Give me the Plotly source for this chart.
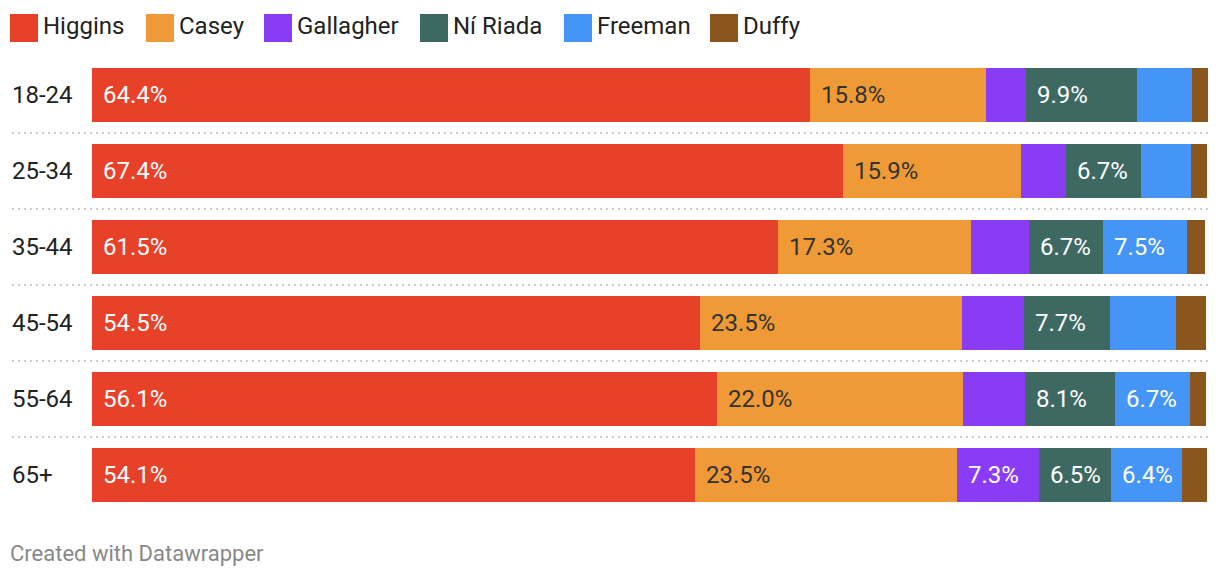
import plotly.graph_objects as go

age_groups = ["18-24", "25-34", "35-44", "45-54", "55-64", "65+"]
candidates = ["Higgins", "Casey", "Gallagher", "Ní Riada", "Freeman", "Duffy"]

higgins = [64.4, 67.4, 61.5, 54.5, 56.1, 54.1]
casey = [15.8, 15.9, 17.3, 23.5, 22.0, 23.5]
gallagher = [3.6, 4.1, 5.2, 5.6, 5.6, 7.3]
ni_riada = [9.9, 6.7, 6.7, 7.7, 8.1, 6.5]
freeman = [5.0, 4.5, 7.5, 5.9, 6.7, 6.4]
duffy = [1.4, 1.4, 1.6, 2.7, 1.4, 2.2]

series = [higgins, casey, gallagher, ni_riada, freeman, duffy]
colors = ["#e8412a", "#f09a37", "#8a3cf5", "#3e6962", "#4495f5", "#8b551e"]
label_colors = ["#ffffff", "#333333", "#ffffff", "#ffffff", "#ffffff", "#ffffff"]
label_min = 6.0

FONT = "Roboto"
OFF = 8  # page body margin
W, H = 1212, 572
ML, MR, MT, MB = 84, 12, 49, 67
plot_w = W - ML - MR
plot_h = H - MT - MB

fig = go.Figure()
for name, vals, col in zip(candidates, series, colors):
    fig.add_trace(go.Bar(
        y=age_groups, x=vals, name=name, orientation="h",
        marker=dict(color=col, line=dict(width=0)),
        width=54 / 76, showlegend=False, hoverinfo="x+name",
    ))

annotations = []
shapes = []


def px_x(p):
    return (p - OFF - ML) / plot_w


def px_y(p):
    return 1 - (p - OFF - MT) / plot_h


# segment value labels
for i, grp in enumerate(age_groups):
    base = 0.0
    for vals, lc in zip(series, label_colors):
        v = vals[i]
        if v >= label_min:
            annotations.append(dict(
                x=base, y=grp, xref="x", yref="y", text=f"{v:.1f}%",
                showarrow=False, xanchor="left", yanchor="middle", xshift=9,
                font=dict(family=FONT, size=24, color=lc),
            ))
        base += v

# category labels (left aligned)
x_left = px_x(10)
for grp in age_groups:
    annotations.append(dict(
        x=x_left, y=grp, xref="paper", yref="y", text=grp, showarrow=False,
        xanchor="left", yanchor="middle",
        font=dict(family=FONT, size=24, color="#222222"),
    ))

# dotted separators
for k in range(len(age_groups) - 1):
    shapes.append(dict(
        type="line", xref="paper", yref="y", x0=px_x(12), x1=1,
        y0=k + 0.5, y1=k + 0.5,
        line=dict(color="#cccccc", width=2, dash="2px,4px"),
    ))

# legend (manual)
legend_x = [10, 146, 264, 420, 564, 710]
sw = 28
sw_top = 14
for name, col, lx in zip(candidates, colors, legend_x):
    shapes.append(dict(
        type="rect", xref="paper", yref="paper",
        x0=px_x(lx), x1=px_x(lx + sw), y0=px_y(sw_top), y1=px_y(sw_top + sw),
        fillcolor=col, line=dict(width=0),
    ))
    annotations.append(dict(
        x=px_x(lx + sw + 3), y=px_y(sw_top + sw / 2 - 2), xref="paper", yref="paper",
        text=name, showarrow=False, xanchor="left", yanchor="middle",
        font=dict(family=FONT, size=24, color="#222222"),
    ))

# footer
annotations.append(dict(
    x=px_x(8), y=px_y(553), xref="paper", yref="paper",
    text="Created with Datawrapper", showarrow=False,
    xanchor="left", yanchor="middle",
    font=dict(family=FONT, size=22, color="#888888"),
))

totals = [sum(s[i] for s in series) for i in range(len(age_groups))]
fig.update_layout(
    width=W, height=H, barmode="stack",
    margin=dict(l=ML, r=MR, t=MT, b=MB, pad=0),
    paper_bgcolor="white", plot_bgcolor="white",
    xaxis=dict(range=[0, max(totals)], visible=False, fixedrange=True),
    yaxis=dict(categoryorder="array", categoryarray=age_groups,
               autorange=False, range=[len(age_groups) - 0.5, -0.5],
               visible=False, fixedrange=True),
    annotations=annotations, shapes=shapes,
    font=dict(family=FONT),
)

fig.write_html("out.html")
